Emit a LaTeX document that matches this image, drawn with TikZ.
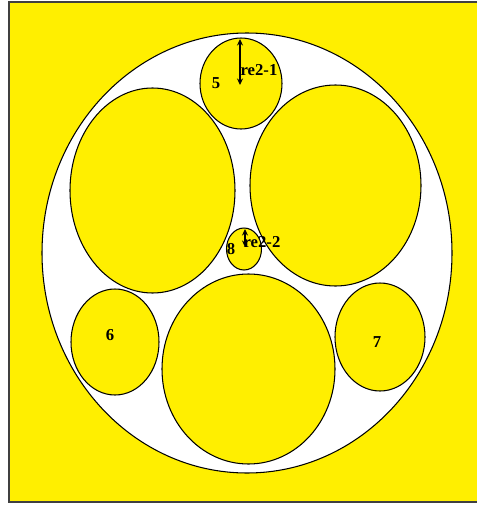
\documentclass[tikz,border=0pt]{standalone}
\usepackage{fontspec}
\setmainfont{Liberation Serif}
\usetikzlibrary{arrows.meta,positioning}
\definecolor{mYellow}{RGB}{255,239,0}
\tikzset{
  % outline of every disc
  discln/.style={line width=0.6pt, draw=black},
  discwhite/.style={discln, fill=white},
  discyellow/.style={discln, fill=mYellow},
  % frame round the ground
  frameln/.style={line width=1pt, draw=black!75},
  % radius markers
  radarrow/.style={{Stealth[length=1.3mm,width=1.2mm]}-{Stealth[length=1.3mm,width=1.2mm]}, line width=0.6pt},
  % bold numbers and labels
  lbl/.style={font=\fontsize{9.5}{11}\selectfont\bfseries, inner sep=0pt},
}

\begin{document}
\begin{tikzpicture}[x=0.02cm, y=-0.02cm]
    \useasboundingbox (0,0) rectangle (477,507);
    % yellow ground and its frame
    \fill[mYellow] (9,2) rectangle (477,502);
    \draw[frameln] (477,2) -- (9,2) -- (9,502) -- (477,502);
    % outer white disc
    \draw[discwhite] (247,253) ellipse (205 and 220);
    % large discs
    \draw[discyellow] (152.5,190.5) ellipse (82.5 and 102.5);
    \draw[discyellow] (335.5,185.5) ellipse (85.5 and 100.5);
    \draw[discyellow] (248.5,369) ellipse (86.5 and 95);
    % small discs 5 to 8
    \draw[discyellow] (241,83.5) ellipse (41 and 45.5);
    \draw[discyellow] (115,342) ellipse (44 and 53);
    \draw[discyellow] (380,337) ellipse (45 and 54);
    \draw[discyellow] (244,249) ellipse (17.5 and 21);
    % numbers
    \node[lbl] (n5) at (216,83) {5};
    \node[lbl] (n6) at (110,335) {6};
    \node[lbl] (n7) at (377,342) {7};
    \node[lbl] (n8) at (231,249) {8};
    % radius of disc 5
    \coordinate (r1top) at (240,39);
    \coordinate (r1bot) at (240,85);
    \draw[radarrow] (r1top) -- (r1bot);
    \node[lbl] (r1lbl) at (259,70) {re2-1};
    % radius of disc 8
    \coordinate (r2top) at (245,229);
    \coordinate (r2bot) at (245,247);
    \draw[radarrow] (r2top) -- (r2bot);
    \node[lbl] (r2lbl) at (262,242) {re2-2};
  \end{tikzpicture}
\end{document}
